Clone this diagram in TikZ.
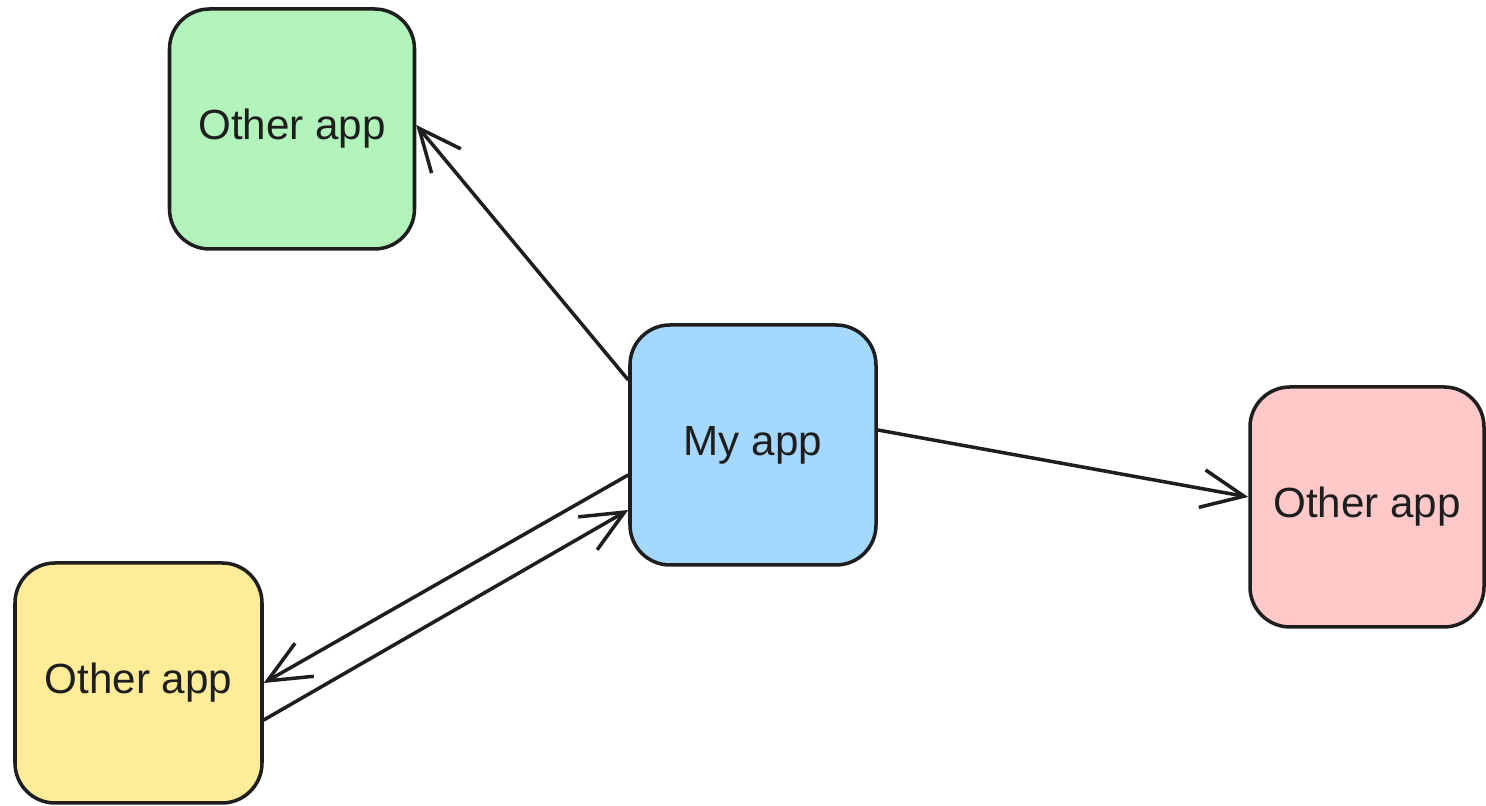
\documentclass[tikz,border=0pt]{standalone}
\usepackage{fontspec}
\setmainfont{Liberation Sans}
\usepackage{tikz}
\usetikzlibrary{calc}
\usetikzlibrary{arrows.meta, positioning}
\definecolor{inkline}{HTML}{1E1E1E}
\definecolor{appgreen}{HTML}{B2F2BB}
\definecolor{appblue}{HTML}{A5D8FF}
\definecolor{appred}{HTML}{FFC9C9}
\definecolor{appyellow}{HTML}{FFEC99}
\tikzset{appbox/.style={draw=inkline, fill=#1, line width=2pt, rounded corners=0.8cm,
  minimum width=4.9cm, minimum height=4.8cm, inner sep=0pt,
  font=\fontsize{24}{28}\selectfont, text=inkline},
%arrows between the apps
link/.style={draw=inkline, line width=2pt, -{Straight Barb[length=0.85cm, width=0.76cm, line width=2pt]}}}

\begin{document}
\begin{tikzpicture}
 \useasboundingbox (0,0) rectangle (29.72,16.12);

 %Drawing the apps
 \node[appbox=appgreen] (green) at (5.84,13.54) {Other app};
 \node[appbox=appblue, minimum width=4.92cm] (mine) at (15.06,7.22) {My app};
 \node[appbox=appred, minimum width=4.68cm] (red) at (27.34,5.98) {Other app};
 \node[appbox=appyellow, minimum width=4.94cm] (yellow) at (2.77,2.46) {Other app};

 %Drawing the links
 \draw[link] ([yshift=1.3cm]mine.west) -- ([yshift=0.08cm]green.east);
 \draw[link] ([yshift=0.3cm]mine.east) -- ([yshift=0.2cm]red.west);
 \draw[link] ([yshift=-0.6cm]mine.west) -- (yellow.east);
 \draw[link] ([yshift=-0.74cm]yellow.east) -- ([yshift=-1.3cm]mine.west);

\end{tikzpicture}
\end{document}
